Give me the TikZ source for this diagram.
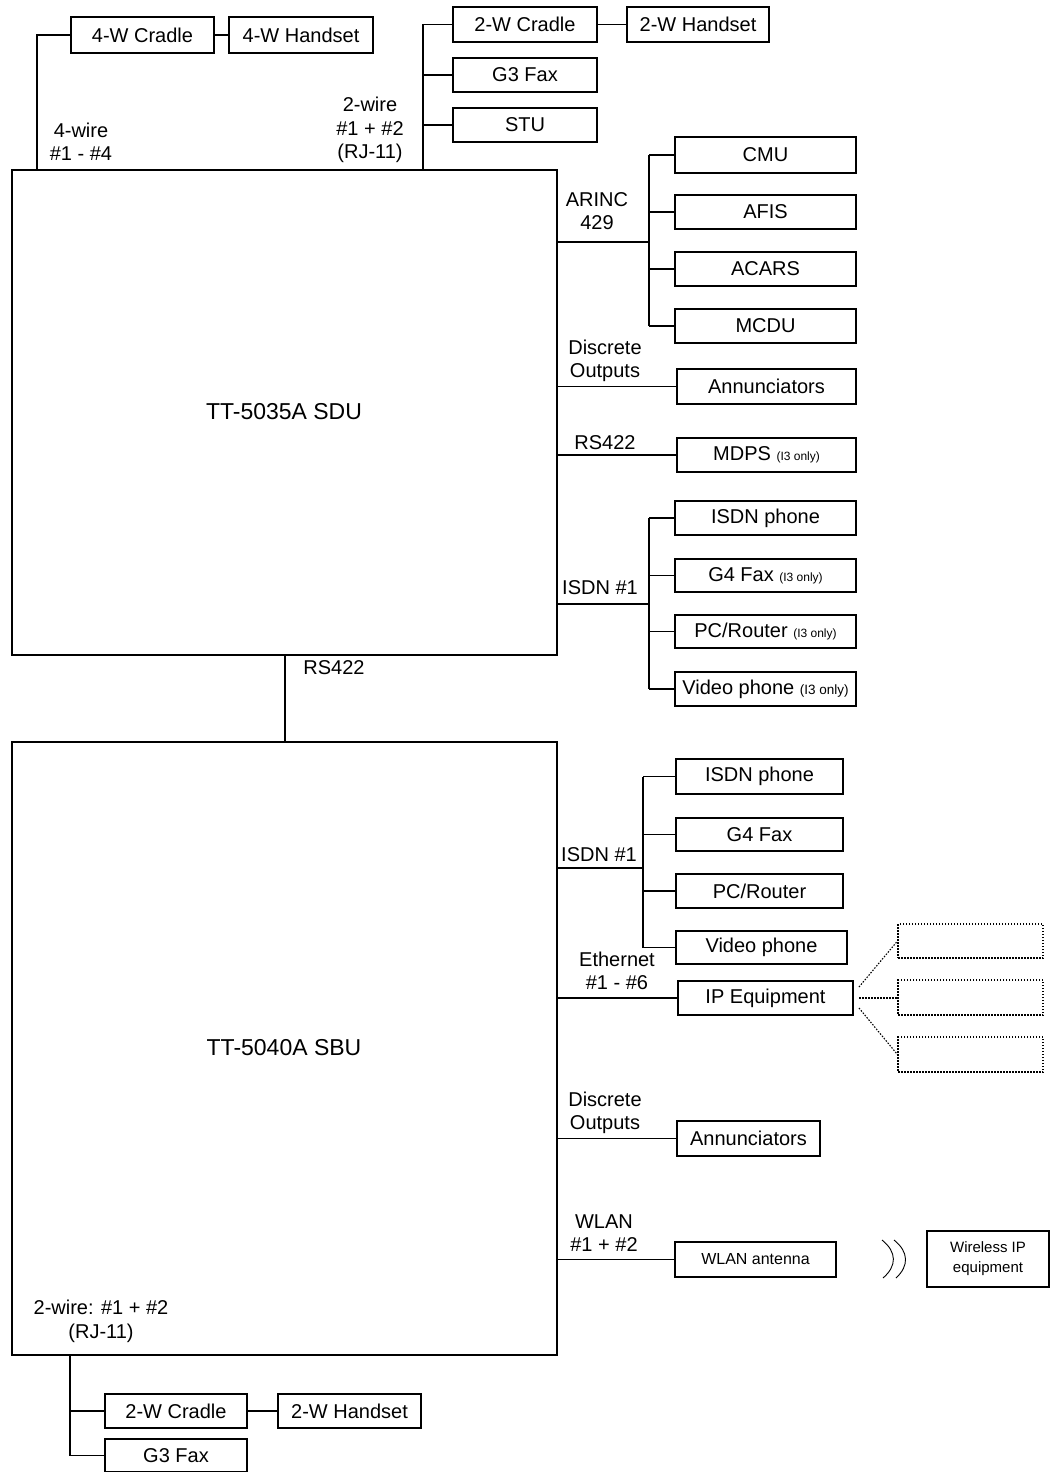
\documentclass[tikz,border=0pt]{standalone}
\usepackage{fontspec}
\setmainfont{Liberation Sans}
\begin{document}
\begin{tikzpicture}[x=1pt,y=-1pt, line width=1.3pt,
  box/.style={draw, inner sep=0pt, font=\fontsize{20}{23}\selectfont},
  lbl/.style={inner sep=0pt, align=center, font=\fontsize{20}{23.5}\selectfont},
  big/.style={inner sep=0pt, font=\fontsize{23}{27}\selectfont},
  dbox/.style={draw, dash pattern=on 1.5pt off 1.5pt, line width=1.1pt, inner sep=0pt},
  dline/.style={dash pattern=on 1.5pt off 1.5pt, line width=1.1pt},
  wave/.style={line width=0.9pt}]
\useasboundingbox (0,0) rectangle (1050,1472);
\newcommand\smalltxt[1]{{\fontsize{12}{14}\selectfont #1}}

% main units
\node[draw, inner sep=0pt, minimum width=545pt, minimum height=485pt] (sdu) at (284.5,412.5) {};
\node[big] (sdut) at (284,412) {TT-5035A SDU};
\node[draw, inner sep=0pt, minimum width=545pt, minimum height=613pt] (sbu) at (284.5,1048.5) {};
\node[big] (sbut) at (284,1048) {TT-5040A SBU};

% top left 4-wire
\node[box, minimum width=143pt, minimum height=36pt] (c4) at (142.5,35) {4-W Cradle};
\node[box, minimum width=144pt, minimum height=36pt] (h4) at (301,35) {4-W Handset};
\coordinate (p4) at (37,170);
\draw (c4.west) -| (p4);
\draw (c4.east) -- (h4.west);
\node[lbl] (l4w) at (81,142) {4-wire\\\#1 - \#4};

% top 2-wire
\node[box, minimum width=144pt, minimum height=35pt] (c2t) at (525,24.5) {2-W Cradle};
\node[box, minimum width=142pt, minimum height=35pt] (h2t) at (698,24.5) {2-W Handset};
\node[box, minimum width=144pt, minimum height=34pt] (g3t) at (525,75) {G3 Fax};
\node[box, minimum width=144pt, minimum height=34pt] (stu) at (525,125) {STU};
\coordinate (p2) at (423,170);
\draw (p2) |- (c2t.west);
\draw (p2 |- g3t.west) -- (g3t.west);
\draw (p2 |- stu.west) -- (stu.west);
\draw (c2t.east) -- (h2t.west);
\node[lbl] (l2w) at (370,130) {2-wire\\\#1 + \#2\\(RJ-11)};

% ARINC 429
\node[box, minimum width=181pt, minimum height=36pt] (cmu) at (765.5,155) {CMU};
\node[box, minimum width=181pt, minimum height=34pt] (afis) at (765.5,212) {AFIS};
\node[box, minimum width=181pt, minimum height=34pt] (acars) at (765.5,269) {ACARS};
\node[box, minimum width=181pt, minimum height=34pt] (mcdu) at (765.5,326) {MCDU};
\coordinate (ba) at (649,242);
\draw (sdu.east |- ba) -- (ba);
\draw (ba |- cmu.west) -- (ba |- mcdu.west);
\foreach \n in {cmu,afis,acars,mcdu} \draw (ba |- \n.west) -- (\n.west);
\node[lbl] (larinc) at (597,211) {ARINC\\429};

% discrete outputs SDU
\node[box, minimum width=179pt, minimum height=35pt] (ann1) at (766.5,386.5) {Annunciators};
\draw (sdu.east |- ann1.west) -- (ann1.west);
\node[lbl] (ldo1) at (605,361) {Discrete\\Outputs};

% RS422 MDPS
\node[box, minimum width=179pt, minimum height=34pt] (mdps) at (766.5,455) {MDPS \smalltxt{(I3 only)}};
\draw (sdu.east |- mdps.west) -- (mdps.west);
\node[lbl] (lrs1) at (605,443) {RS422};

% ISDN SDU
\node[box, minimum width=181pt, minimum height=34pt] (isp1) at (765.5,518) {ISDN phone};
\node[box, minimum width=181pt, minimum height=33pt] (g4f1) at (765.5,575.5) {G4 Fax \smalltxt{(I3 only)}};
\node[box, minimum width=181pt, minimum height=33pt] (pcr1) at (765.5,631.5) {PC/Router \smalltxt{(I3 only)}};
\node[box, minimum width=181pt, minimum height=34pt] (vid1) at (765.5,689) {Video phone {\fontsize{13.5}{15}\selectfont (I3 only)}};
\coordinate (bi) at (649,604);
\draw (sdu.east |- bi) -- (bi);
\draw (bi |- isp1.west) -- (bi |- vid1.west);
\foreach \n in {isp1,g4f1,pcr1,vid1} \draw (bi |- \n.west) -- (\n.west);
\node[lbl] (lisdn1) at (600,588) {ISDN \#1};

% RS422 between units
\coordinate (r) at (285,700);
\draw (sdu.south -| r) -- (sbu.north -| r);
\node[lbl] (lrs2) at (334,668) {RS422};

% ISDN SBU
\node[box, minimum width=167pt, minimum height=35pt] (isp2) at (759.5,776.5) {ISDN phone};
\node[box, minimum width=167pt, minimum height=33pt] (g4f2) at (759.5,834.5) {G4 Fax};
\node[box, minimum width=167pt, minimum height=34pt] (pcr2) at (759.5,891) {PC/Router};
\node[box, minimum width=171pt, minimum height=33pt] (vid2) at (761.5,947.5) {Video phone};
\coordinate (bi2) at (643,868);
\draw (sbu.east |- bi2) -- (bi2);
\draw (bi2 |- isp2.west) -- (bi2 |- vid2.west);
\foreach \n in {isp2,g4f2,pcr2,vid2} \draw (bi2 |- \n.west) -- (\n.west);
\node[lbl] (lisdn2) at (599,855) {ISDN \#1};

% Ethernet
\node[box, minimum width=175pt, minimum height=34pt] (ipeq) at (765.5,998) {IP Equipment};
\draw (sbu.east |- ipeq.west) -- (ipeq.west);
\node[lbl] (leth) at (617,971) {Ethernet\\\#1 - \#6};
\node[dbox, minimum width=145pt, minimum height=34pt] (d1) at (970.5,941) {};
\node[dbox, minimum width=145pt, minimum height=35pt] (d2) at (970.5,997.5) {};
\node[dbox, minimum width=145pt, minimum height=35pt] (d3) at (970.5,1054.5) {};
\coordinate (e1) at (859,987);
\coordinate (e2) at (859,998);
\coordinate (e3) at (859,1008);
\draw[dline] (e1) -- (d1.west);
\draw[dline] (e2) -- (e2 -| d2.west);
\draw[dline] (e3) -- (d3.west);

% discrete outputs SBU
\node[box, minimum width=143pt, minimum height=35pt] (ann2) at (748.5,1138.5) {Annunciators};
\draw (sbu.east |- ann2.west) -- (ann2.west);
\node[lbl] (ldo2) at (605,1113) {Discrete\\Outputs};

% WLAN
\node[box, minimum width=161pt, minimum height=35pt, font=\fontsize{16}{18}\selectfont] (wlan) at (755.5,1259.5) {WLAN antenna};
\draw (sbu.east |- wlan.west) -- (wlan.west);
\node[lbl] (lwlan) at (604,1233) {WLAN\\\#1 + \#2};
\node[box, align=center, minimum width=122pt, minimum height=56pt, font=\fontsize{15}{20}\selectfont] (wip) at (988,1259) {Wireless IP\\equipment};
\draw[wave] (882,1240) .. controls (897,1252) and (897,1266) .. (883,1278);
\draw[wave] (894,1240) .. controls (909,1252) and (909,1266) .. (896,1278);

% bottom 2-wire
\node[lbl] (lbw) at (101,1321.5) {2-wire: \#1 + \#2\\(RJ-11)};
\node[box, minimum width=142pt, minimum height=34pt] (c2b) at (176,1411) {2-W Cradle};
\node[box, minimum width=143pt, minimum height=34pt] (h2b) at (349.5,1411) {2-W Handset};
\node[box, minimum width=142pt, minimum height=33pt] (g3b) at (176,1455.5) {G3 Fax};
\coordinate (pb) at (70,1380);
\draw (sbu.south -| pb) |- (g3b.west);
\draw (pb |- c2b.west) -- (c2b.west);
\draw (c2b.east) -- (h2b.west);
\end{tikzpicture}
\end{document}
